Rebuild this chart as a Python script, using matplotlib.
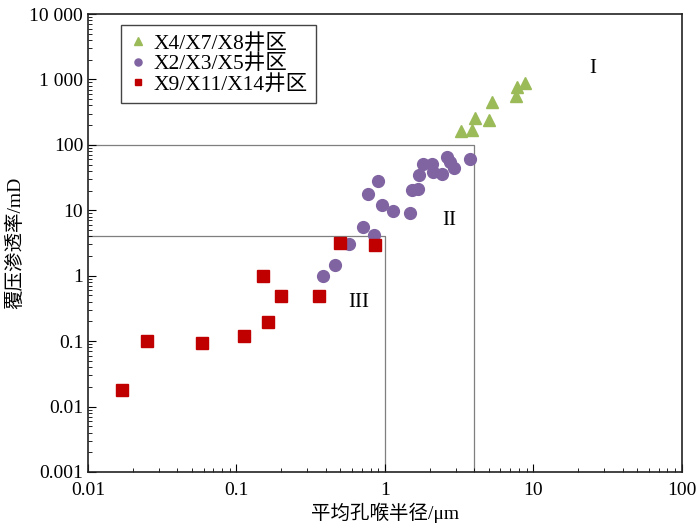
import matplotlib
matplotlib.use('Agg')

import matplotlib.pyplot as plt
from matplotlib.ticker import LogLocator, FuncFormatter, NullFormatter
import numpy as np

plt.rcParams['font.family'] = ['Liberation Serif', 'Noto Sans CJK SC']
plt.rcParams['mathtext.fontset'] = 'stix'

# --- datos ---
x_green = [3.25, 3.85, 4.04, 5.01, 5.26, 7.62, 7.74, 8.77]
y_green = [162, 168, 257, 239, 451, 558, 765, 881]

x_purple = [0.893, 0.764, 0.950, 1.127, 1.473, 1.527, 1.660, 1.702, 1.794, 2.062,
            2.115, 2.432, 2.628, 2.741, 2.915, 3.736, 0.714, 0.847, 0.572, 0.463, 0.380]
y_purple = [27.7, 17.7, 12.1, 9.73, 8.97, 20.4, 21.3, 34.5, 50.8, 50.8,
            38.0, 36.1, 64.4, 55.2, 44.2, 60.7, 5.60, 4.18, 3.04, 1.44, 0.996]

x_red = [0.500, 0.861, 0.150, 0.1995, 0.359, 0.163, 0.113, 0.0251, 0.0583, 0.0170]
y_red = [3.12, 2.99, 0.986, 0.493, 0.49, 0.193, 0.1205, 0.0989, 0.0923, 0.018]

labels = ['X4/X7/X8井区', 'X2/X3/X5井区', 'X9/X11/X14井区']

# limites de zonas
zone2_x, zone2_y = 4.0, 100.0
zone3_x, zone3_y = 1.0, 4.0

fig = plt.figure(figsize=(7.0, 5.29), dpi=100, facecolor='white')
ax = fig.add_axes([0.1257, 0.1078, 0.8483, 0.8657])

ax.plot([0.01, zone2_x, zone2_x], [zone2_y, zone2_y, 0.001], color='#7f7f7f', lw=0.9, zorder=1)
ax.plot([0.01, zone3_x, zone3_x], [zone3_y, zone3_y, 0.001], color='#7f7f7f', lw=0.9, zorder=1)

ax.plot(x_green, y_green, ls='none', marker='^', ms=9, color='#9BBB59', label=labels[0], zorder=3)
ax.plot(x_purple, y_purple, ls='none', marker='o', ms=8.5, color='#8064A2', label=labels[1], zorder=3)
ax.plot(x_red, y_red, ls='none', marker='s', ms=8.2, color='#C00000', label=labels[2], zorder=4)

ax.set_xscale('log')
ax.set_yscale('log')
ax.set_xlim(0.01, 100)
ax.set_ylim(0.001, 10000)

ax.xaxis.set_major_locator(LogLocator(base=10, numticks=10))
ax.xaxis.set_minor_locator(LogLocator(base=10, subs=np.arange(2, 10), numticks=20))
ax.yaxis.set_major_locator(LogLocator(base=10, numticks=10))
ax.yaxis.set_minor_locator(LogLocator(base=10, subs=np.arange(2, 10), numticks=20))


def fmt(v, pos):
    if v >= 1000:
        return f"{int(round(v)):,}".replace(',', ' ')
    if v >= 1:
        return f"{int(round(v))}"
    return f"{v:g}"


ax.xaxis.set_major_formatter(FuncFormatter(fmt))
ax.yaxis.set_major_formatter(FuncFormatter(fmt))
ax.xaxis.set_minor_formatter(NullFormatter())
ax.yaxis.set_minor_formatter(NullFormatter())

ax.tick_params(which='both', direction='in', top=False, right=False, labelsize=14, colors='black')
ax.tick_params(which='major', length=6, width=0.8)
ax.tick_params(which='minor', length=3, width=0.6)
ax.tick_params(axis='x', pad=7)

for sp in ax.spines.values():
    sp.set_linewidth(1.2)
    sp.set_color('#222222')

ax.text(25, 1490, 'I', fontsize=15, ha='center', va='center')
ax.text(2.70, 7.1, 'II', fontsize=15, ha='center', va='center')
ax.text(0.668, 0.394, 'III', fontsize=15, ha='center', va='center')

ax.set_xlabel('平均孔喉半径/μm', fontsize=14, labelpad=3)
ax.set_ylabel('覆压渗透率/mD', fontsize=14, labelpad=4)

leg = ax.legend(loc='upper left', bbox_to_anchor=(0.056, 0.976), borderaxespad=0,
                fontsize=15.5, markerscale=0.6, handlelength=0.8, handletextpad=0.3,
                labelspacing=0.02, borderpad=0.4, fancybox=False, framealpha=1)
leg.get_frame().set_edgecolor('#444444')
leg.get_frame().set_linewidth(1.0)

plt.savefig('out.png', dpi=100, facecolor='white')
